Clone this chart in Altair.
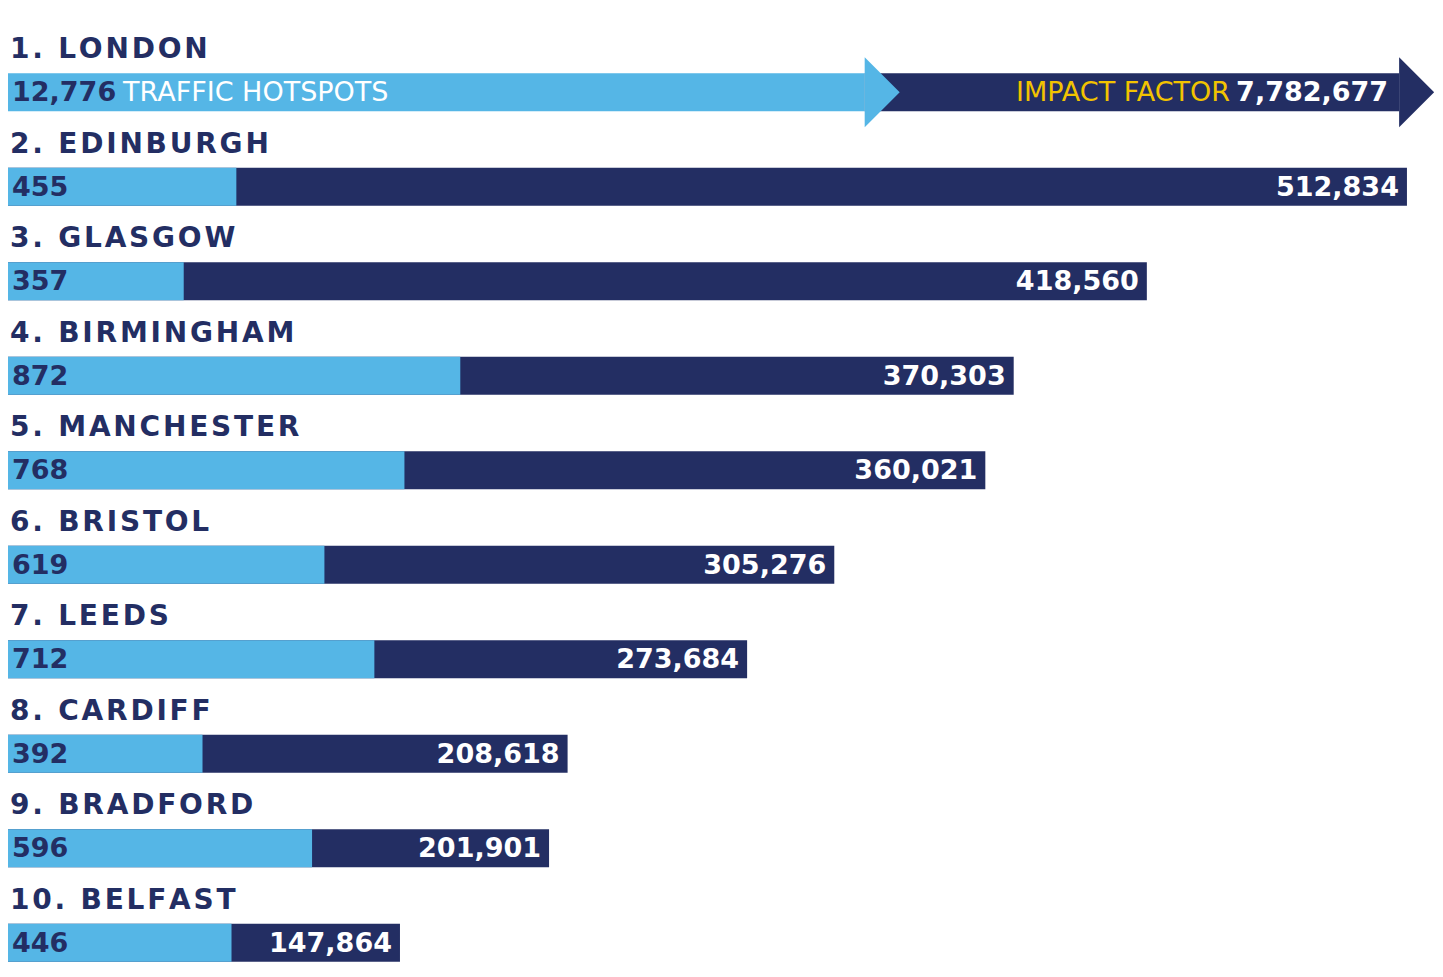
import altair as alt
import pandas as pd

# ---- data ----
cities = ["LONDON", "EDINBURGH", "GLASGOW", "BIRMINGHAM", "MANCHESTER",
          "BRISTOL", "LEEDS", "CARDIFF", "BRADFORD", "BELFAST"]
hotspots = [12776, 455, 357, 872, 768, 619, 712, 392, 596, 446]
impact = [7782677, 512834, 418560, 370303, 360021, 305276, 273684, 208618, 201901, 147864]

# ---- styling ----
NAVY = "#232E63"
LIGHT = "#55B6E6"
YELLOW = "#F2C300"
NUM_FONT = "DejaVu Sans"
LABEL_FONT = "DejaVu Sans"
HAIR = "\u200a"  # hair space used as tracking between letters

# scale extents (broken axis for London)
IMPACT_DOMAIN = 523000
HOT_DOMAIN = 2687
HOT_BREAK = 1625
IMPACT_BREAK = 510000

df = pd.DataFrame({"rank": range(1, len(cities) + 1), "city": cities,
                   "hotspots": hotspots, "impact": impact})
df["label"] = (df["rank"].astype(str) + ". " + df["city"]).map(lambda s: HAIR.join(s))
df["broken"] = df["hotspots"] > HOT_BREAK
df["hot_disp"] = df["hotspots"].clip(upper=HOT_BREAK) * IMPACT_DOMAIN / HOT_DOMAIN
df["imp_end"] = df["impact"].where(~df["broken"], IMPACT_BREAK)
df["imp_start"] = df["hot_disp"].where(df["broken"], 0)
df["hot_txt"] = df["hotspots"].map(lambda v: f"{v:,}")
df["imp_txt"] = df["impact"].map(lambda v: f"{v:,}")

W, H = 1443, 945
xs = alt.Scale(domain=[0, IMPACT_DOMAIN], nice=False)
Y = alt.Y("city:N", sort=cities, axis=None,
          scale=alt.Scale(paddingInner=0, paddingOuter=0))
HEAD = "M0,-1L1,0L0,1Z"
BAR_OFF = 22

base = alt.Chart(df)
brk = base.transform_filter("datum.broken")
norm = base.transform_filter("!datum.broken")

dark = base.mark_bar(size=38, yOffset=BAR_OFF, color=NAVY).encode(
    x=alt.X("imp_start:Q", scale=xs, axis=None), x2="imp_end:Q", y=Y)
dark_head = brk.mark_point(shape=HEAD, filled=True, size=4900, opacity=1,
                           strokeWidth=0, color=NAVY, yOffset=BAR_OFF).encode(
    x=alt.X("imp_end:Q", scale=xs), y=Y)
light = base.mark_bar(size=38, yOffset=BAR_OFF, color=LIGHT).encode(
    x=alt.X("zero:Q", scale=xs), x2="hot_disp:Q", y=Y).transform_calculate(zero="0")
light_head = brk.mark_point(shape=HEAD, filled=True, size=4900, opacity=1,
                            strokeWidth=0, color=LIGHT, yOffset=BAR_OFF).encode(
    x=alt.X("hot_disp:Q", scale=xs), y=Y)

labels = base.mark_text(align="left", baseline="alphabetic", dx=18, dy=-12,
                        font=LABEL_FONT, fontWeight="bold", fontSize=28,
                        color=NAVY).encode(
    x=alt.datum(0, scale=xs), y=Y, text="label:N")

hot_num = base.mark_text(align="left", baseline="alphabetic", dx=20, dy=31,
                         font=NUM_FONT, fontWeight="bold", fontSize=27,
                         color=NAVY).encode(
    x=alt.datum(0, scale=xs), y=Y, text="hot_txt:N")

imp_num = norm.mark_text(align="right", baseline="alphabetic", dx=-8, dy=31,
                         font=NUM_FONT, fontWeight="bold", fontSize=27,
                         color="white").encode(
    x=alt.X("imp_end:Q", scale=xs), y=Y, text="imp_txt:N")

imp_num_brk = brk.mark_text(align="right", baseline="alphabetic", dx=-11, dy=31,
                            font=NUM_FONT, fontWeight="bold", fontSize=27,
                            color="white").encode(
    x=alt.X("imp_end:Q", scale=xs), y=Y, text="imp_txt:N")

hot_word = brk.mark_text(align="left", baseline="alphabetic", dx=131, dy=31,
                         font=NUM_FONT, fontSize=27, color="white").encode(
    x=alt.datum(0, scale=xs), y=Y, text=alt.value("TRAFFIC HOTSPOTS"))

imp_word = brk.mark_text(align="right", baseline="alphabetic", dx=-169, dy=31,
                         font=NUM_FONT, fontSize=27, color=YELLOW).encode(
    x=alt.X("imp_end:Q", scale=xs), y=Y, text=alt.value("IMPACT FACTOR"))

chart = alt.layer(dark, dark_head, light, light_head, labels, hot_num,
                  imp_num, imp_num_brk, hot_word, imp_word).properties(
    width=W, height=H,
    autosize=alt.AutoSizeParams(type="none"),
    padding={"left": -16, "top": 15, "right": 0, "bottom": 0},
    background="white",
).configure_view(stroke=None)

chart.save("out.html", embed_options={"renderer": "svg", "actions": False})
